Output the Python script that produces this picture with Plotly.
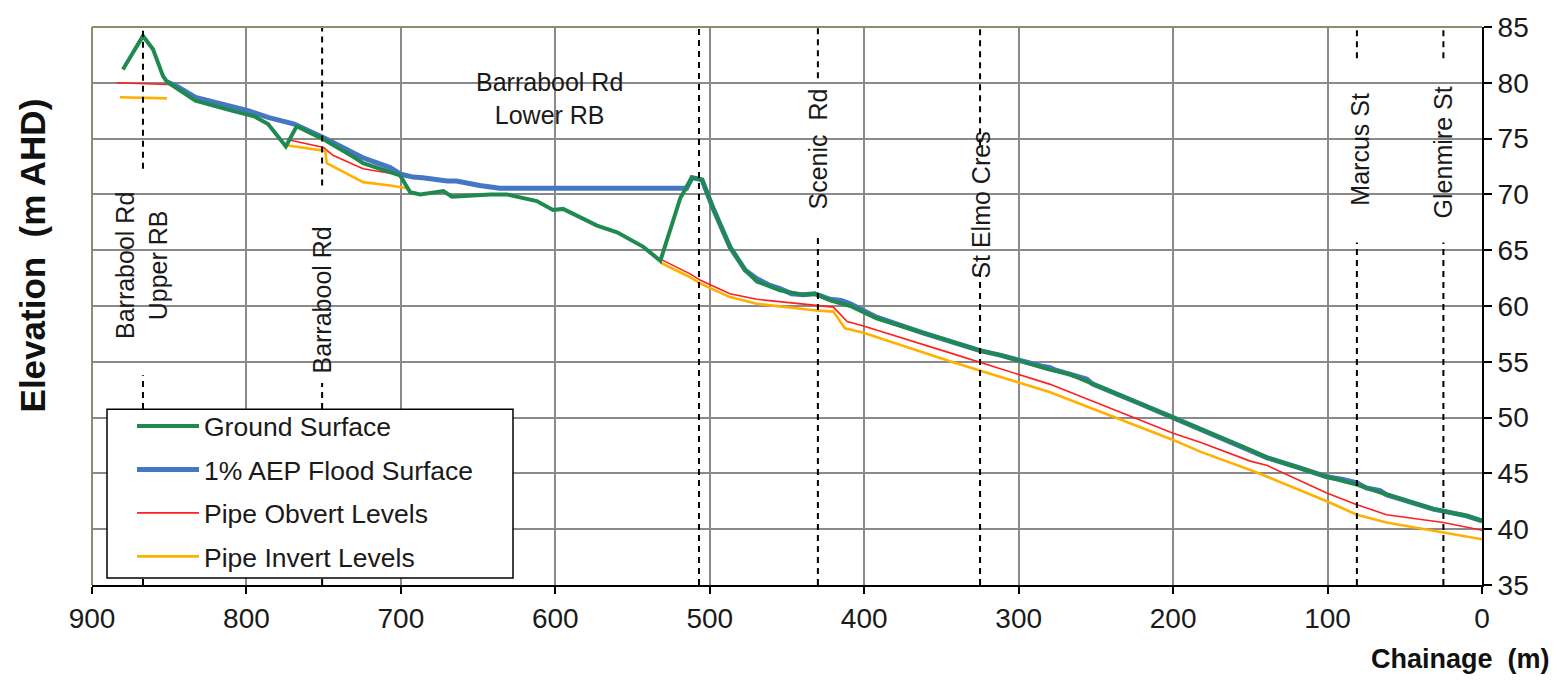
import plotly.graph_objects as go

# ---------------- data (chainage m, elevation m AHD) ----------------
ground = [(880, 81.2), (867, 84.2), (860.5, 83.0), (854, 80.6), (851.5, 80.1), (844, 79.4),
          (833, 78.4), (812, 77.6), (795, 77.0), (786, 76.3), (774.5, 74.3), (767.5, 76.1),
          (751, 75.0), (730, 73.3), (724.5, 72.8), (700.5, 71.7), (694, 70.2), (687.5, 70.0),
          (672.5, 70.3), (667, 69.8), (655, 69.9), (642, 70.0), (631.5, 70.0), (612, 69.4),
          (601.5, 68.6), (595, 68.7), (573, 67.2), (560, 66.6), (543, 65.3), (532, 64.05),
          (519, 69.7), (511.5, 71.5), (505, 71.3), (498, 68.8), (487, 65.3), (477, 63.2),
          (469.5, 62.2), (454.5, 61.4), (439.5, 61.0), (432, 61.1), (422, 60.5), (409, 60.0),
          (392, 58.9), (362, 57.6), (344.5, 56.8), (325, 56.0), (312, 55.6), (299, 55.1),
          (280, 54.3), (267, 53.9), (247, 52.7), (224, 51.4), (200, 50.0), (182.5, 49.0),
          (172, 48.4), (150, 47.1), (139, 46.4), (118, 45.5), (100.5, 44.7), (81, 44.0),
          (66, 43.3), (31.5, 41.8), (10, 41.2), (0, 40.75)]

flood = [(851.5, 80.1), (844, 79.6), (833, 78.7), (812, 78.0), (799, 77.5), (786, 76.9),
         (769, 76.3), (749, 75.0), (725, 73.3), (707, 72.4), (700, 71.8), (692, 71.55),
         (686, 71.5), (670, 71.2), (664, 71.2), (649, 70.8), (636, 70.55), (515, 70.55),
         (511.5, 71.5), (505, 71.3), (498, 68.8), (487, 65.3), (477, 63.2), (469.5, 62.45),
         (462, 61.9), (454.5, 61.55), (447, 61.1), (439.5, 61.0), (432, 61.1), (422, 60.6),
         (415, 60.5), (409, 60.2), (400, 59.6), (392, 59.0), (362, 57.6), (344.5, 56.8),
         (325, 56.0), (312, 55.6), (299, 55.1), (285, 54.6), (280, 54.5), (277, 54.3),
         (267, 53.9), (260, 53.65), (256, 53.45), (252, 53.0), (247, 52.7), (224, 51.4),
         (200, 50.0), (182.5, 49.0), (172, 48.4), (150, 47.1), (139, 46.4), (118, 45.5),
         (100.5, 44.7), (90, 44.45), (81, 44.15), (75, 43.7), (70, 43.5), (66, 43.45),
         (62, 43.1), (31.5, 41.8), (10, 41.2), (0, 40.75)]

obvert = [(884, 80.0), (851, 79.85), None, (773, 74.9), (752, 74.3), (750, 74.2), (744, 73.5),
          (724.5, 72.3), (707, 71.9), (698.5, 71.6), None, (532, 64.2), (513, 62.9), (506, 62.3),
          (487, 61.1), (469.5, 60.6), (431, 60.1), (420, 59.9), (411, 58.6), (400.5, 58.2),
          (344.5, 55.8), (299, 53.8), (280, 53.0), (200, 48.6), (182.5, 47.8), (150, 46.1),
          (139, 45.7), (100.5, 43.25), (81, 42.2), (61.8, 41.3), (25, 40.6), (0, 39.9)]

invert = [(882, 78.7), (851.5, 78.6), None, (774, 74.4), (749, 73.9), (748, 72.8), (724.5, 71.1),
          (707, 70.8), (696, 70.55), None, (532, 63.9), (513, 62.6), (506, 62.0), (487, 60.8),
          (469.5, 60.2), (431, 59.6), (420, 59.5), (412.5, 58.0), (400.5, 57.6), (344.5, 55.05),
          (299, 53.1), (280, 52.3), (200, 48.0), (182.5, 46.95), (150, 45.3), (139, 44.7),
          (100.5, 42.5), (81, 41.3), (61.8, 40.6), (25, 39.7), (0, 39.1)]

# road crossings: chainage, label, label centre elevation, dashed gap (upper, lower)
road_chainage = [867, 751, 507, 430, 325, 81, 25]
road_labels = ["Barrabool Rd<br>Upper RB", "Barrabool Rd", "Barrabool Rd<br>Lower RB",
               "Scenic  Rd", "St Elmo Cres", "Marcus St", "Glenmire St"]
label_x = [867.5, 751, 604, 430, 325, 79, 25]
label_y = [63.6, 60.5, 78.6, 74.1, 69.0, 74.1, 73.8]
label_angle = [-90, -90, 0, -90, -90, -90, -90]
gap_top = [72.3, 70.8, None, 80.4, 74.4, 82.2, 82.2]
gap_bottom = [53.8, 53.1, None, 66.4, 63.3, 65.7, 65.7]

x_ticks = [900, 800, 700, 600, 500, 400, 300, 200, 100, 0]
y_ticks = [35, 40, 45, 50, 55, 60, 65, 70, 75, 80, 85]

FONT = "Arial, Liberation Sans, sans-serif"


def split(pts):
    xs, ys = [], []
    for p in pts:
        if p is None:
            xs.append(None); ys.append(None)
        else:
            xs.append(p[0]); ys.append(p[1])
    return xs, ys


fig = go.Figure()
series = [
    ("Pipe Obvert Levels", obvert, "#ff1f1f", 1.6, 3),
    ("Pipe Invert Levels", invert, "#ffb000", 2.6, 4),
    ("1% AEP Flood Surface", flood, "#4677c2", 5, 2),
    ("Ground Surface", ground, "#1f8a4f", 4, 1),
]
for name, pts, col, w, rank in series:
    xs, ys = split(pts)
    fig.add_trace(go.Scatter(x=xs, y=ys, mode="lines", name=name,
                             line=dict(color=col, width=w), legendrank=rank,
                             legendgroup=name, connectgaps=False))

shapes = []
for c, gt, gb in zip(road_chainage, gap_top, gap_bottom):
    dash = dict(color="black", width=2, dash="6px,5px")
    if gt is None:
        shapes.append(dict(type="line", xref="x", yref="y", x0=c, x1=c, y0=35, y1=85, line=dash))
    else:
        shapes.append(dict(type="line", xref="x", yref="y", x0=c, x1=c, y0=gt, y1=85, line=dash))
        shapes.append(dict(type="line", xref="x", yref="y", x0=c, x1=c, y0=35, y1=gb, line=dash))
# frame top and left
shapes.append(dict(type="line", xref="paper", yref="paper", x0=0, x1=1, y0=1, y1=1,
                   line=dict(color="#8c8c70", width=2)))
shapes.append(dict(type="line", xref="paper", yref="paper", x0=0, x1=0, y0=0, y1=1,
                   line=dict(color="#8c8c70", width=2)))
# legend box
shapes.append(dict(type="rect", xref="paper", yref="paper", layer="above",
                   x0=(107 - 92) / 1390, x1=(513 - 92) / 1390,
                   y0=(585 - 578) / 565, y1=(585 - 407) / 565,
                   fillcolor="white", line=dict(color="black", width=1.5)))

annotations = []
for lx, ly, txt, ang in zip(label_x, label_y, road_labels, label_angle):
    annotations.append(dict(x=lx, y=ly, xref="x", yref="y", text=txt, showarrow=False,
                            textangle=ang, font=dict(family=FONT, size=25, color="#1a1a1a"),
                            xanchor="center", yanchor="middle"))
annotations.append(dict(x=1.0504, y=-0.133, xref="paper", yref="paper", text="<b>Chainage  (m)</b>",
                        showarrow=False, xanchor="right", yanchor="middle",
                        font=dict(family=FONT, size=27, color="#111")))
annotations.append(dict(x=-0.043, y=0.591, xref="paper", yref="paper", text="<b>Elevation  (m AHD)</b>",
                        showarrow=False, textangle=-90, xanchor="center", yanchor="middle",
                        font=dict(family=FONT, size=35, color="#111")))

fig.update_layout(
    width=1557, height=681,
    margin=dict(l=92, r=75, t=20, b=96),
    paper_bgcolor="white", plot_bgcolor="white",
    showlegend=True,
    legend=dict(x=(132 - 92) / 1390, y=(585 - 400) / 565, xanchor="left", yanchor="top",
                bgcolor="rgba(0,0,0,0)", borderwidth=0,
                font=dict(family=FONT, size=26.5, color="#1a1a1a"),
                tracegroupgap=6, itemwidth=62, traceorder="grouped"),
    shapes=shapes, annotations=annotations,
    xaxis=dict(range=[900, 0], tickvals=x_ticks, showgrid=True, gridcolor="#8a8a8a", gridwidth=1.5,
               zeroline=False, showline=True, linecolor="black", linewidth=2,
               ticks="outside", ticklen=7, tickwidth=2, tickcolor="black",
               tickfont=dict(family=FONT, size=28, color="#1a1a1a")),
    yaxis=dict(range=[35, 85], tickvals=y_ticks, side="right", showgrid=True, gridcolor="#8a8a8a",
               gridwidth=1.5, zeroline=False, showline=True, linecolor="black", linewidth=2,
               ticks="outside", ticklen=8, tickwidth=2, tickcolor="black",
               tickfont=dict(family=FONT, size=28, color="#1a1a1a")),
)

fig.write_html("out.html")
